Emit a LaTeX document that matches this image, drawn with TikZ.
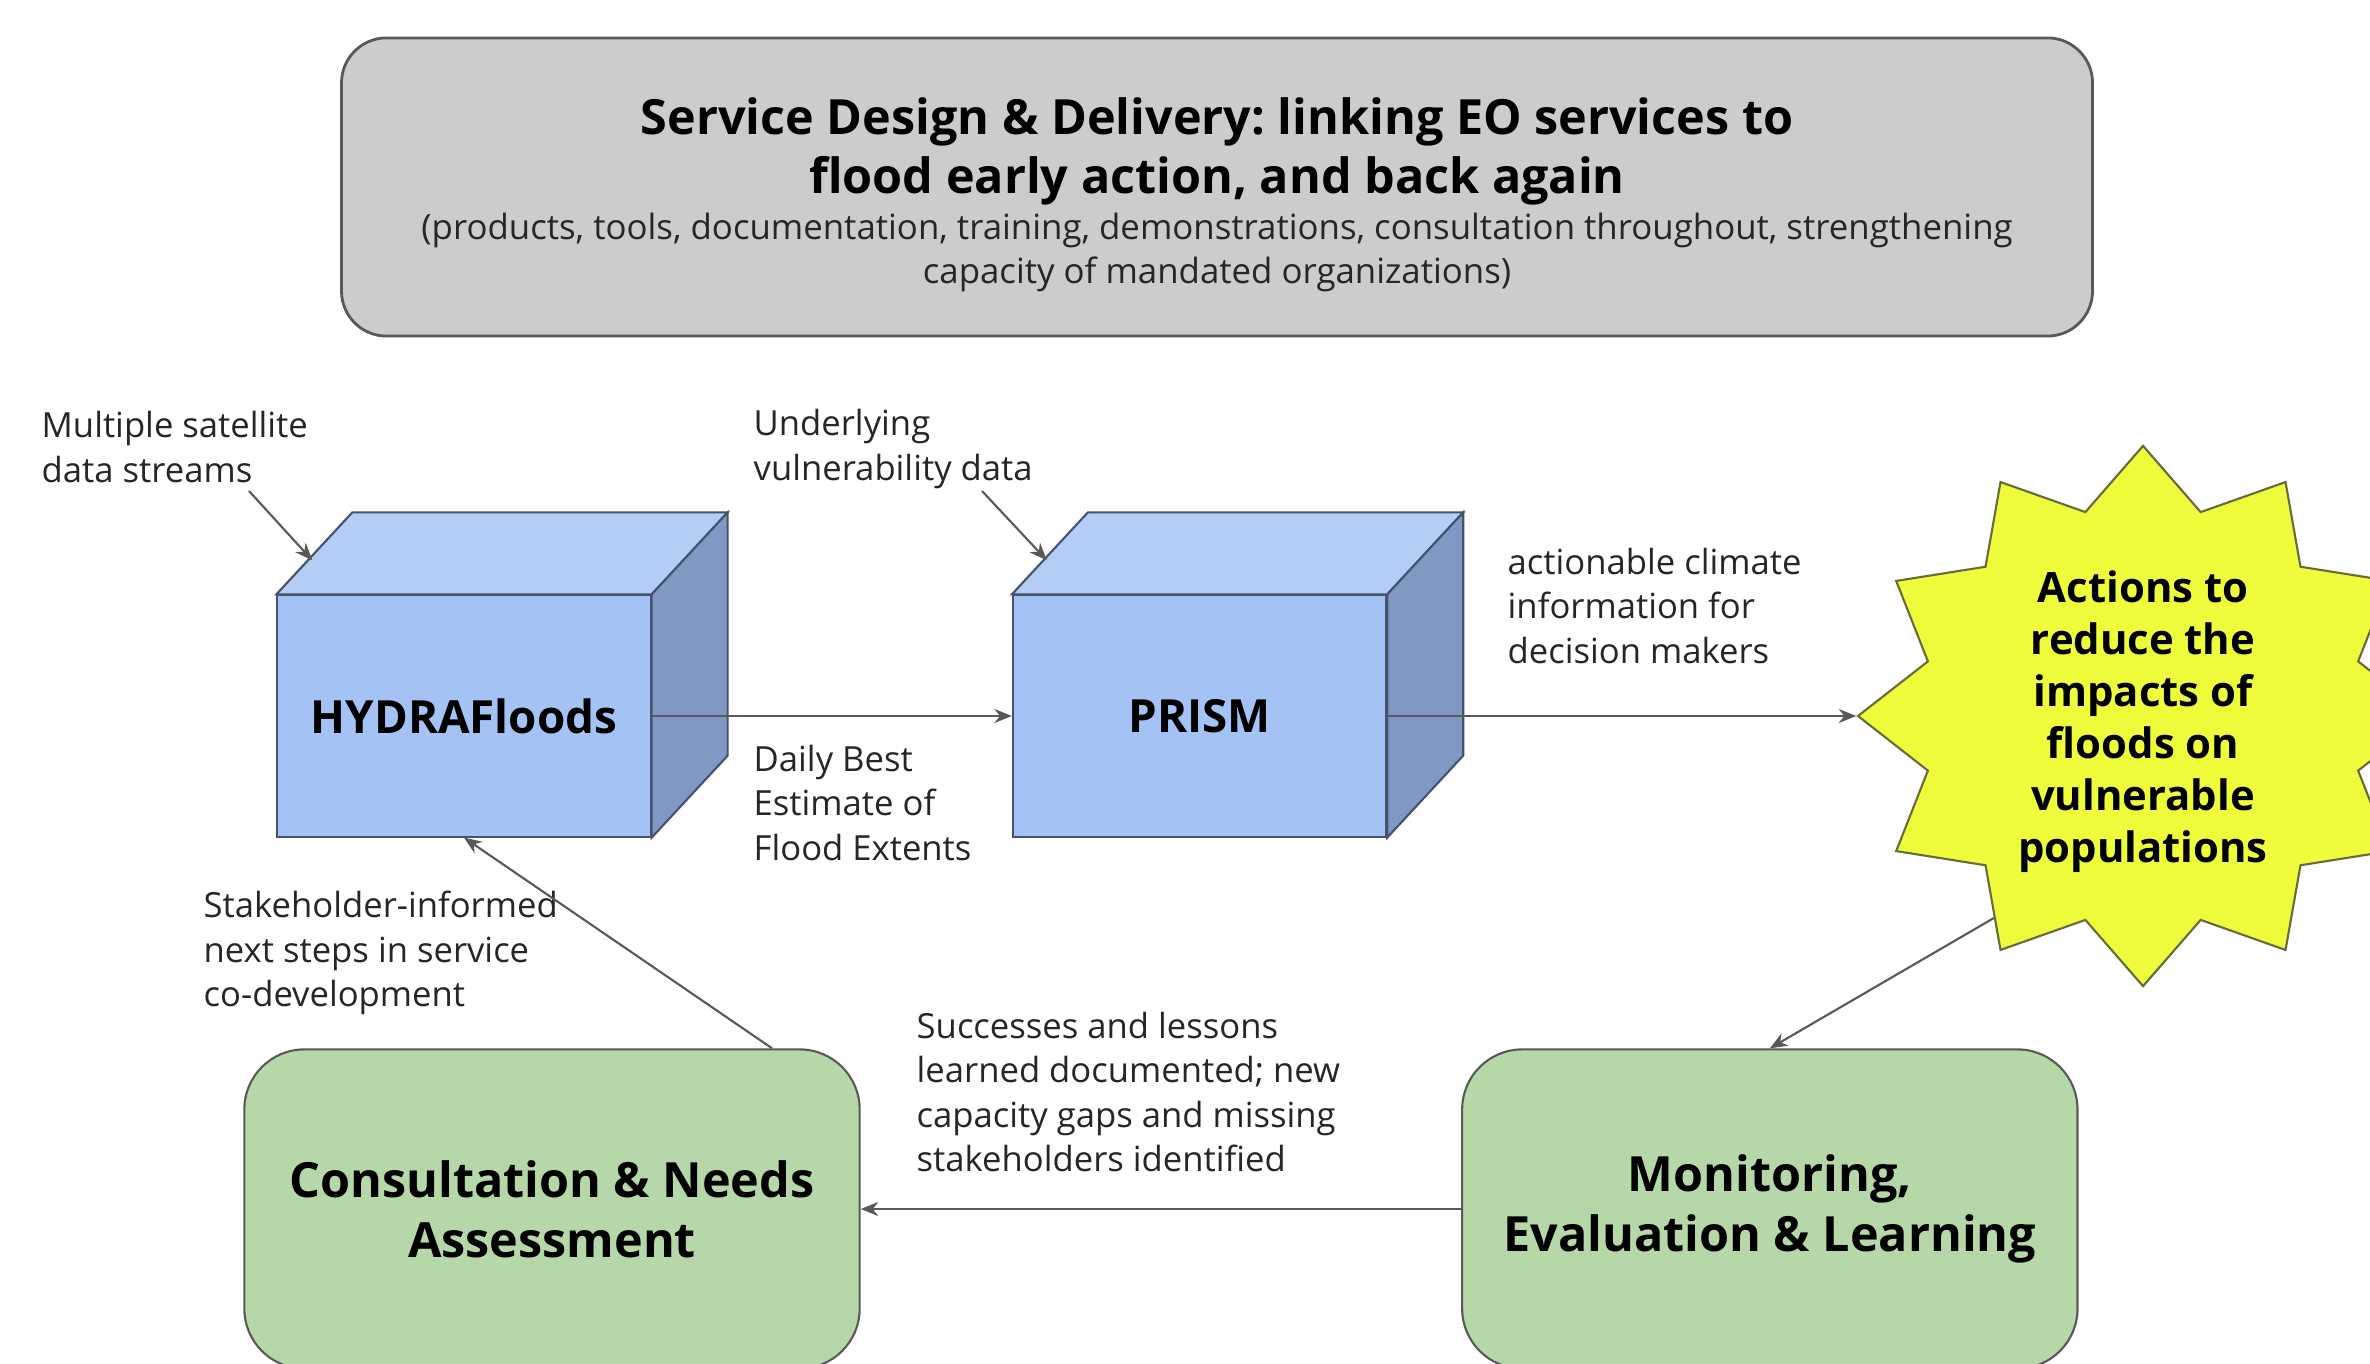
\documentclass[tikz,border=0pt]{standalone}
\usepackage{fontspec}
\setmainfont{Open Sans}
\usetikzlibrary{shapes,arrows.meta,positioning}
\frenchspacing

\definecolor{boxgrey}{HTML}{CCCCCC}
\definecolor{linegrey}{HTML}{595959}
\definecolor{cubefront}{HTML}{A4C2F4}
\definecolor{cubetop}{HTML}{B4CDF6}
\definecolor{cubeside}{HTML}{8298C4}
\definecolor{cubeline}{HTML}{45526B}
\definecolor{burstfill}{HTML}{EEFC3C}
\definecolor{burstline}{HTML}{666B3A}
\definecolor{stagegreen}{HTML}{B6D7A8}

\tikzstyle{banner} = [rectangle, rounded corners=0.45cm, minimum width=17.5cm, minimum height=2.98cm, draw=linegrey, line width=0.8pt, fill=boxgrey]
\tikzstyle{bannertitle} = [align=center, inner sep=0, font=\bfseries\fontsize{13.8}{16.8}\selectfont]
\tikzstyle{bannersub} = [align=center, inner sep=0, text=black!85, font=\fontsize{9.9}{12.5}\selectfont]
\tikzstyle{cube} = [rectangle, minimum width=3.73cm, minimum height=2.41cm, draw=cubeline, line width=0.6pt, fill=cubefront, font=\bfseries\fontsize{13}{16}\selectfont]
\tikzstyle{cubetopface} = [draw=cubeline, line width=0.6pt, fill=cubetop]
\tikzstyle{cubesideface} = [draw=cubeline, line width=0.6pt, fill=cubeside]
\tikzstyle{burst} = [star, star points=12, star point ratio=1.28, minimum size=5.4cm, inner sep=0, draw=burstline, line width=0.6pt, fill=burstfill]
\tikzstyle{bursttext} = [align=center, inner sep=0, font=\bfseries\fontsize{11.9}{14.8}\selectfont]
\tikzstyle{stage} = [rectangle, rounded corners=0.6cm, minimum width=6.15cm, minimum height=3.19cm, align=center, draw=linegrey, line width=0.6pt, fill=stagegreen, font=\bfseries\fontsize{13.8}{17}\selectfont]
\tikzstyle{note} = [anchor=west, align=left, inner sep=0, text=black!85, font=\fontsize{9.85}{12.6}\selectfont]
\tikzstyle{arrow} = [line width=0.6pt, draw=linegrey, -{Stealth[length=5pt, width=4pt]}]

\begin{document}
\begin{tikzpicture}[x=0.01cm, y=-0.01cm]

\path [fill=white, use as bounding box] (0,0) rectangle (2370,1364);

% banner across the top
\node [banner] (design) at (1217,187) {};
\node [bannertitle] (designtitle) at (1217,151) {Service Design \& Delivery: linking EO services to\\flood early action, and back again};
\node [bannersub] (designsub) at (1217,252) {(products, tools, documentation, training, demonstrations, consultation throughout, strengthening\\capacity of mandated organizations)};

% the two boxes, front face is the node
\node [cube] (hydra) at (464,716) {HYDRAFloods};
\node [cube, right=3.6cm of hydra] (prism) {PRISM};
\foreach \c in {hydra,prism}{
  \draw [cubetopface] (\c.north west) -- ++(76,-82) -- ([shift={(76,-82)}]\c.north east) -- (\c.north east) -- cycle;
  \draw [cubesideface] (\c.north east) -- ([shift={(76,-82)}]\c.north east) -- ([shift={(76,-82)}]\c.south east) -- (\c.south east) -- cycle;
}

% star, a bit wider than tall
\begin{scope}[shift={(2143,716)}, xscale=1.055]
\node [burst, transform shape] (burst) at (0,0) {};
\end{scope}
\node [bursttext] (actions) at (2143,722) {Actions to\\reduce the\\impacts of\\floods on\\vulnerable\\populations};

\node [stage] (consult) at (552,1209) {Consultation \& Needs\\Assessment};
\node [stage, right=6cm of consult] (mel) {Monitoring,\\Evaluation \& Learning};

% notes next to the arrows
\node [note] (satnote) at (41,447) {Multiple satellite\\data streams};
\node [note] (vulnnote) at (753,449) {Underlying\\vulnerability data};
\node [note] (floodnote) at (753,803) {Daily Best\\Estimate of\\Flood Extents};
\node [note] (climnote) at (1507,606) {actionable climate\\information for\\decision makers};
\node [note] (stakenote) at (203,953) {Stakeholder-informed\\next steps in service\\co-development};
\node [note] (lessonnote) at (916,1092) {Successes and lessons\\learned documented; new\\capacity gaps and missing\\stakeholders identified};

\coordinate (satin) at (249,491);
\coordinate (vulnin) at (982,491);

\draw [arrow] (satin) -- ([shift={(36,-34)}]hydra.north west);
\draw [arrow] (vulnin) -- ([shift={(35,-34)}]prism.north west);
\draw [arrow] (hydra) -- (prism);
\draw [arrow] (prism) -- (burst.west);
\draw [arrow] (burst.235) -- (mel.north);
\draw [arrow] (mel) -- (consult);
\draw [arrow] ([xshift=2.2cm]consult.north) -- (hydra.south);

\end{tikzpicture}
\end{document}
